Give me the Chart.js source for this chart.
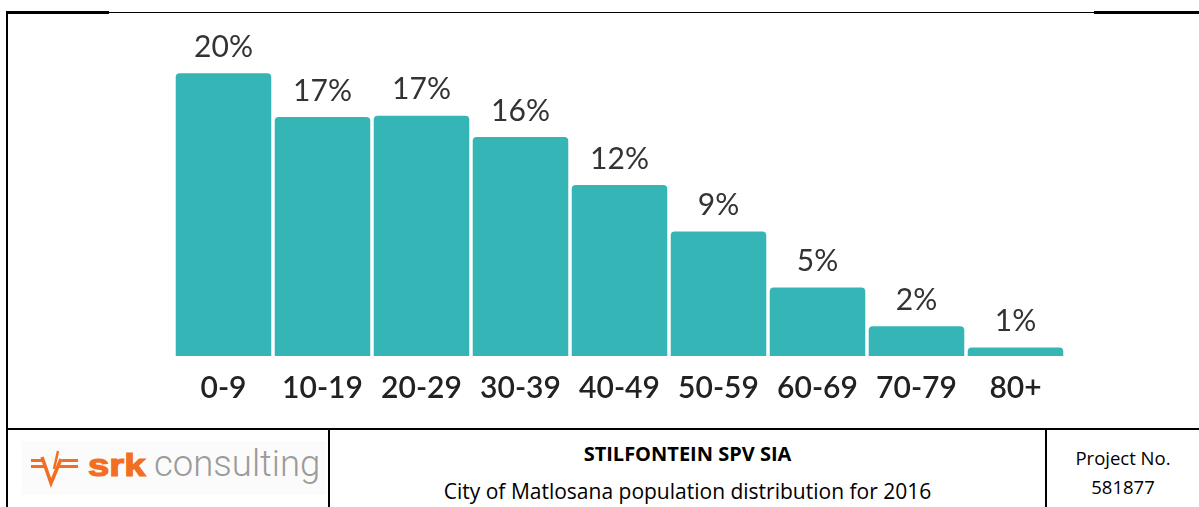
<!DOCTYPE html>
<html>
<head>
<meta charset="utf-8">
<script src="https://cdn.jsdelivr.net/npm/chart.js@4"></script>
<style>
  html, body { margin: 0; padding: 0; background: #fff; }
  body { width: 1199px; height: 507px; position: relative; overflow: hidden; }
  .line { position: absolute; background: #000; }
  #chartBox { position: absolute; left: 0; top: 14px; width: 1199px; height: 414px; }
  .cell { position: absolute; font-family: "Open Sans", "Noto Sans", sans-serif; color: #000; text-align: center; white-space: nowrap; }
  #logoBg { position: absolute; left: 22px; top: 441px; width: 304px; height: 54px; background: #fbfbfb; }
</style>
</head>
<body>
<!-- frame lines -->
<div class="line" style="left:6px; top:11px; width:103px; height:3px;"></div>
<div class="line" style="left:109px; top:12px; width:985px; height:1px;"></div>
<div class="line" style="left:1094px; top:11px; width:105px; height:3px;"></div>
<div class="line" style="left:6px; top:11px; width:2px; height:496px;"></div>
<div class="line" style="left:6px; top:428px; width:1193px; height:2px;"></div>
<div class="line" style="left:328px; top:428px; width:2px; height:79px;"></div>
<div class="line" style="left:1045px; top:428px; width:2px; height:79px;"></div>

<div id="chartBox"><canvas id="chart"></canvas></div>

<!-- logo -->
<div id="logoBg"></div>
<svg style="position:absolute; left:28px; top:448px;" width="56" height="40" viewBox="0 0 56 40">
  <g fill="#f26f21">
    <rect x="3" y="11" width="13" height="3"/>
    <rect x="3" y="17" width="15" height="3"/>
    <rect x="34" y="11" width="16" height="3"/>
    <rect x="31" y="17" width="19" height="3"/>
  </g>
  <polyline points="14,9 23,35 33,11" fill="none" stroke="#f26f21" stroke-width="3.5" stroke-linejoin="miter"/>
  <line x1="30" y1="3" x2="26" y2="21" stroke="#f26f21" stroke-width="2.5"/>
</svg>
<div style="position:absolute; left:88px; top:447px; font-family:'Liberation Sans', Arial, sans-serif; font-weight:bold; font-size:32px; line-height:36px; color:#f26f21; transform:scaleX(1.2); transform-origin:left top; -webkit-text-stroke:1.2px #f26f21;">srk</div>
<div style="position:absolute; left:154px; top:444px; font-family:Roboto, sans-serif; font-weight:300; font-size:36.5px; line-height:40px; color:#9b9b9b;">consulting</div>

<div class="cell" style="left:330px; width:715px; top:440px; font-size:20px; font-weight:bold;">STILFONTEIN SPV SIA</div>
<div class="cell" style="left:330px; width:715px; top:477px; font-size:21px;">City of Matlosana population distribution for 2016</div>
<div class="cell" style="left:1047px; width:152px; top:445px; font-size:18.5px;">Project No.</div>
<div class="cell" style="left:1047px; width:152px; top:474px; font-size:18.5px;">581877</div>

<script>
// Age groups and share of population (%)
var ageGroups = ['0-9', '10-19', '20-29', '30-39', '40-49', '50-59', '60-69', '70-79', '80+'];
var shares = [20.0, 16.9, 17.0, 15.5, 12.1, 8.8, 4.85, 2.1, 0.6];
var shareLabels = ['20%', '17%', '17%', '16%', '12%', '9%', '5%', '2%', '1%'];

// Draw the percentage text above each bar
var barLabels = {
    id: 'barLabels',
    afterDatasetsDraw: function (chart) {
        var ctx = chart.ctx;
        var meta = chart.getDatasetMeta(0);
        ctx.save();
        ctx.font = '30px Lato';
        ctx.fillStyle = '#333333';
        ctx.textAlign = 'center';
        ctx.textBaseline = 'middle';
        meta.data.forEach(function (bar, i) {
            ctx.fillText(shareLabels[i], bar.x, bar.y - 26);
        });
        ctx.restore();
    }
};

new Chart(document.getElementById('chart'), {
    type: 'bar',
    data: {
        labels: ageGroups,
        datasets: [{
            data: shares,
            backgroundColor: '#35b5b5',
            borderRadius: 4,
            barPercentage: 0.965,
            categoryPercentage: 1.0
        }]
    },
    options: {
        responsive: true,
        maintainAspectRatio: false,
        animation: false,
        layout: { padding: { left: 174, right: 134, top: 31, bottom: 16 } },
        plugins: { legend: { display: false }, tooltip: { enabled: false } },
        scales: {
            x: {
                grid: { display: false },
                border: { display: false },
                ticks: { color: '#222222', padding: 6, font: { family: 'Lato', size: 30, weight: '600' } }
            },
            y: { display: false, min: 0, max: 22 }
        }
    },
    plugins: [barLabels]
});
</script>
</body>
</html>
